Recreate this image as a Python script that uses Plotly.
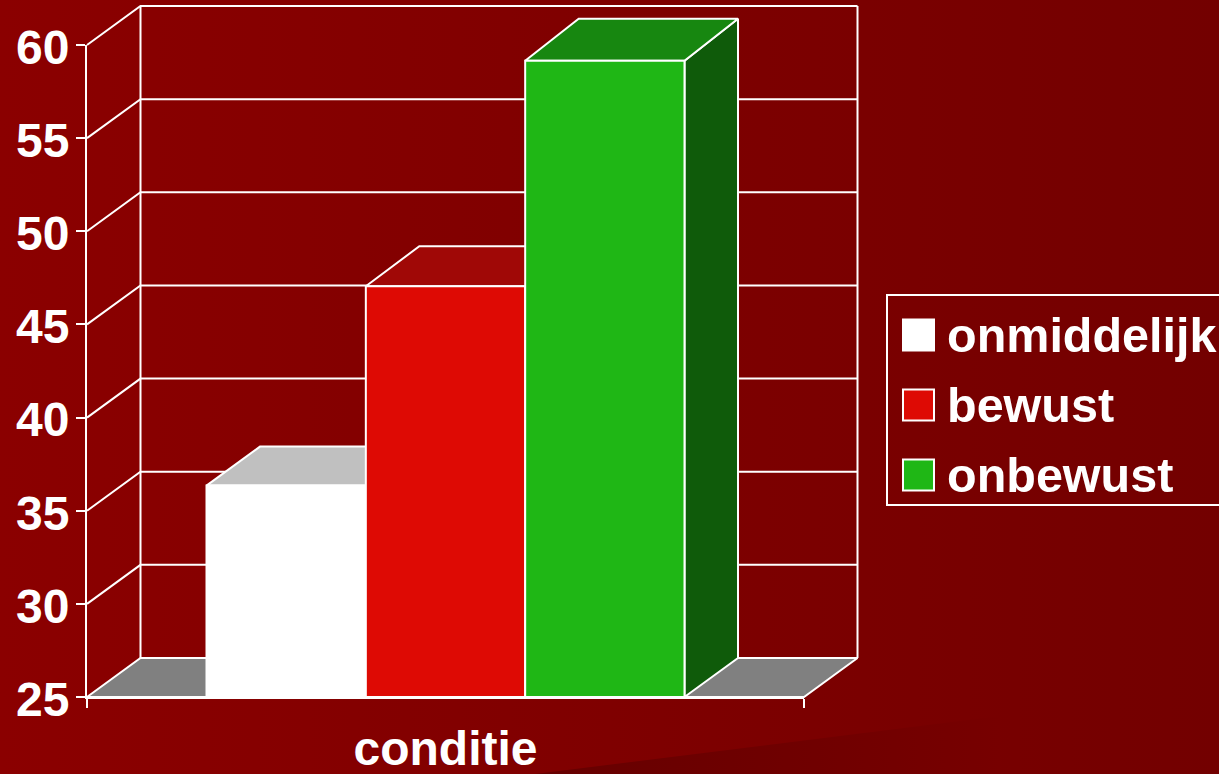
import plotly.graph_objects as go

# ---- data ----
category = "conditie"
series_names = ["onmiddelijk", "bewust", "onbewust"]
series_values = [36.35, 47.05, 59.15]
front_colors = ["#FFFFFF", "#DE0A04", "#1FB715"]
top_colors = ["#C0C0C0", "#A00806", "#178710"]
side_colors = ["#808080", "#700503", "#0F5B0A"]
y_ticks = [25, 30, 35, 40, 45, 50, 55, 60]

# ---- layout constants ----
W, H = 1219, 774
LEFT, RIGHT, BOTTOM, TOP = 87, 804, 697, 45
DX_PX, DY_PX = 53.5, 39.0
BAR_DEPTH_PX = [39.0, 40.0, 42.0]
BAR_GAP = 1 / 3
WHITE = "#FFFFFF"
FONT = dict(family="Liberation Sans", size=48, color=WHITE, weight="bold")
LEGEND_FONT = dict(family="Liberation Sans", size=48.5, color=WHITE, weight="bold")

Y_MIN, Y_MAX = y_ticks[0], y_ticks[-1]
x_per_px = 1.0 / (RIGHT - LEFT)
y_per_px = (Y_MAX - Y_MIN) / (BOTTOM - TOP)
DX = DX_PX * x_per_px
DY = DY_PX * y_per_px


def px_x(p):
    return (p - LEFT) * x_per_px - 0.5


def px_y(p):
    return Y_MIN + (BOTTOM - p) * y_per_px


fig = go.Figure()


def poly(xs, ys, fill=None, line=True, gradient=None):
    kw = dict(x=xs, y=ys, mode="lines", xaxis="x", yaxis="y",
              showlegend=False, hoverinfo="skip")
    kw["line"] = dict(color=WHITE, width=2) if line else dict(width=0, color="rgba(0,0,0,0)")
    if gradient:
        kw["fill"] = "toself"
        kw["fillgradient"] = gradient
    elif fill:
        kw["fill"] = "toself"
        kw["fillcolor"] = fill
    fig.add_trace(go.Scatter(**kw))


# page background gradient
poly([px_x(0), px_x(W), px_x(W), px_x(0), px_x(0)],
     [px_y(0), px_y(0), px_y(H), px_y(H), px_y(0)], line=False,
     gradient=dict(type="horizontal", colorscale=[[0, "#8B0000"], [1, "#730000"]]))
# faint darker wedge at the bottom of the page
poly([px_x(535), px_x(1000), px_x(1000), px_x(535)],
     [px_y(774), px_y(716), px_y(774), px_y(774)], line=False,
     gradient=dict(type="horizontal", colorscale=[[0, "#660000"], [0.6, "#700000"], [1, "#770000"]]))

# floor
L, R = -0.5, 0.5
poly([L, R, R + DX, L + DX, L], [Y_MIN, Y_MIN, Y_MIN + DY, Y_MIN + DY, Y_MIN], fill="#808080")

# grid lines: side wall + back wall
for v in y_ticks[1:]:
    poly([L, L + DX, R + DX], [v, v + DY, v + DY])
# back wall verticals
poly([L + DX, L + DX], [Y_MIN + DY, Y_MAX + DY])
poly([R + DX, R + DX], [Y_MIN + DY, Y_MAX + DY])

# top and side faces of the bars, computed from the values
bar_w = (1 - BAR_GAP) / len(series_values)
for i, v in enumerate(series_values):
    x0 = -0.5 + BAR_GAP / 2 + i * bar_w
    x1 = x0 + bar_w
    dt = BAR_DEPTH_PX[i] * y_per_px
    poly([x1, x1 + DX, x1 + DX, x1, x1], [Y_MIN, Y_MIN + DY, v + dt, v, Y_MIN], fill=side_colors[i])
    poly([x0, x0 + DX, x1 + DX, x1, x0], [v, v + dt, v + dt, v, v], fill=top_colors[i])

# front faces
for name, v, c in zip(series_names, series_values, front_colors):
    fig.add_trace(go.Bar(x=[category], y=[v - Y_MIN], base=Y_MIN, name=name, xaxis="x2", yaxis="y2",
                         marker=dict(color=c, line=dict(color=WHITE, width=2)),
                         showlegend=False))

# legend box
shapes = [dict(type="rect", xref="paper", yref="paper", x0=887 / W, x1=1240 / W,
               y0=1 - 295 / H, y1=1 - 505 / H, line=dict(color=WHITE, width=2))]
annotations = []
for i, (name, c) in enumerate(zip(series_names, front_colors)):
    cy = 335 + 70 * i
    shapes.append(dict(type="rect", xref="paper", yref="paper", x0=903 / W, x1=934 / W,
                       y0=1 - (cy - 15.5) / H, y1=1 - (cy + 15.5) / H, fillcolor=c,
                       line=dict(color=WHITE, width=2)))
    annotations.append(dict(text=name, xref="paper", yref="paper", x=945 / W,
                            y=1 - cy / H, xanchor="left", yanchor="middle", showarrow=False,
                            font=LEGEND_FONT))

fig.update_layout(
    width=W, height=H, margin=dict(l=0, r=0, t=0, b=0, autoexpand=False),
    paper_bgcolor="#7F0000", plot_bgcolor="rgba(0,0,0,0)",
    barmode="group", bargap=BAR_GAP, bargroupgap=0,
    shapes=shapes, annotations=annotations,
    xaxis=dict(domain=[0, 1], range=[px_x(0), px_x(W)], visible=False, fixedrange=True),
    yaxis=dict(domain=[0, 1], range=[px_y(H), px_y(0)], visible=False, fixedrange=True),
    xaxis2=dict(domain=[LEFT / W, RIGHT / W], anchor="y2", type="category", range=[-0.5, 0.5],
                tickson="boundaries", ticks="outside", ticklen=9, tickwidth=2, tickcolor=WHITE,
                showline=True, linecolor=WHITE, linewidth=2, showgrid=False, zeroline=False,
                tickfont=FONT, ticklabelstandoff=8),
    yaxis2=dict(domain=[1 - BOTTOM / H, 1 - TOP / H], anchor="x2", range=[Y_MIN, Y_MAX],
                tickvals=y_ticks, ticks="outside", ticklen=9, tickwidth=2, tickcolor=WHITE,
                showline=True, linecolor=WHITE, linewidth=2, showgrid=False, zeroline=False,
                tickfont=FONT, ticklabelstandoff=-3, ticklabelshift=2),
    font=FONT,
)

fig.write_html("out.html", config=dict(displayModeBar=False),
               post_script="document.body.style.margin='0';")
